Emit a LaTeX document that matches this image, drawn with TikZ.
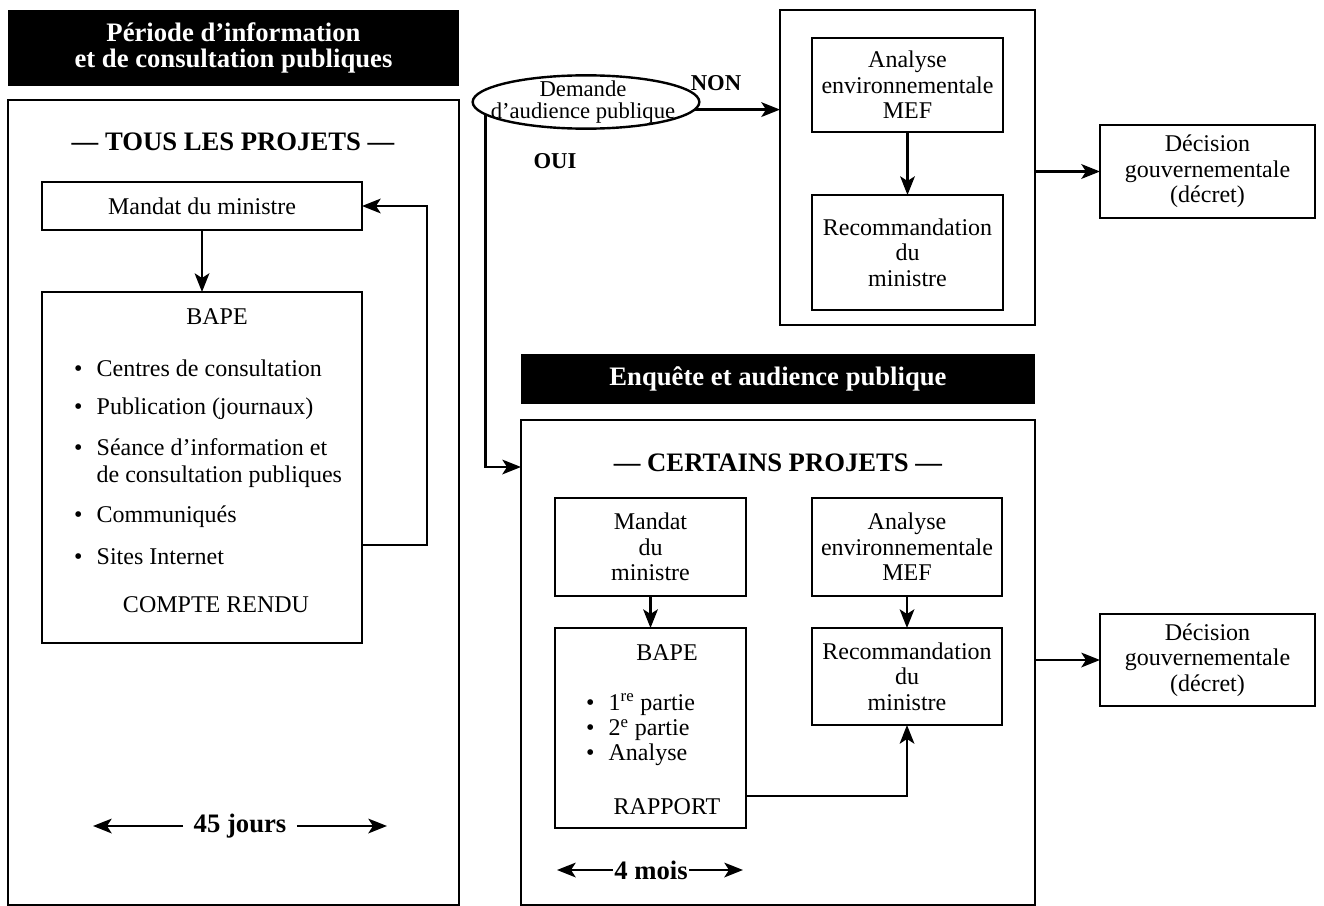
\documentclass[tikz,border=0pt]{standalone}
\usepackage{fontspec}
\setmainfont{Liberation Serif}
\usetikzlibrary{arrows.meta,shapes.geometric,fit}
\begin{document}
\begin{tikzpicture}[x=0.75pt,y=-0.75pt,
  every node/.style={inner sep=0pt, outer sep=0pt},
  frame/.style={draw, line width=1.8pt, inner sep=0pt},
  hdr/.style={fill=black, inner sep=0pt},
  hdrtxt/.style={text=white, align=center, font=\fontsize{20}{20}\selectfont\bfseries},
  lbl/.style={font=\fontsize{20}{20}\selectfont\bfseries},
  yesno/.style={font=\fontsize{17}{17}\selectfont\bfseries},
  txt/.style={font=\fontsize{18}{19}\selectfont, align=center},
  item/.style={font=\fontsize{18}{20}\selectfont, align=left, anchor=west},
  arr/.style={line width=1.8pt, -{Stealth[length=14pt,width=11pt,inset=3.5pt]}},
]
\useasboundingbox (0,0) rectangle (1324,906);

% ---------- left column ----------
\node[hdr, fit={(8,10)(459,86)}] (hL) {};
\node[hdrtxt] (hLt) at (hL.center) {Période d’information\\et de consultation publiques};
\node[frame, fit={(8,100)(459,905)}] (oL) {};
\node[lbl] (tous) at (233,142) {— TOUS LES PROJETS —};
\node[frame, fit={(42,182)(362,230)}] (mL) {};
\node[txt] (mLt) at (mL.center) {Mandat du ministre};
\node[frame, fit={(42,292)(362,643)}] (bL) {};
\node[txt] (bLt) at (217,317) {BAPE};
\node[item] (i1) at (74,368) {\makebox[17pt][l]{•}Centres de consultation};
\node[item] (i2) at (74,409) {\makebox[17pt][l]{•}Publication (journaux)};
\node[item] (i3) at (74,463) {\makebox[17pt][l]{•}Séance d’information et\\\hphantom{\makebox[17pt][l]{•}}de consultation publiques};
\node[item] (i4) at (74,517) {\makebox[17pt][l]{•}Communiqués};
\node[item] (i5) at (74,557) {\makebox[17pt][l]{•}Sites Internet};
\node[txt] (cr) at (216,605) {COMPTE RENDU};
\node[lbl] (j45) at (240,826) {45 jours};
\coordinate (j45l) at (93,826);
\coordinate (j45r) at (387,826);
\draw[arr] ([xshift=-8pt]j45.west) -- (j45l);
\draw[arr] ([xshift=8pt]j45.east) -- (j45r);

\draw[arr] (mL) -- (bL);
\coordinate (fbY) at (0,545);
\coordinate (fbX) at (427,0);
\draw[arr] (bL.east |- fbY) -| (fbX |- mL.east) -- (mL.east);

% ---------- upper middle ----------
\node[frame, ellipse, minimum width=170pt, minimum height=40pt] (dem) at (586,102) {};
\node[txt, font=\fontsize{17}{17}\selectfont] (demt) at (583,102) {Demande\\d’audience publique};
\node[yesno] (non) at (716,83) {NON};
\node[yesno] (oui) at (555,161) {OUI};

\node[frame, fit={(780,10)(1035,325)}] (oU) {};
\node[frame, fit={(812,38)(1003,132)}] (aU) {};
\node[txt] (aUt) at (aU.center) {Analyse\\environnementale\\MEF};
\node[frame, fit={(812,195)(1003,310)}] (rU) {};
\node[txt] (rUt) at (rU.center) {Recommandation\\du\\ministre};
\draw[arr] (aU) -- (rU);
\node[frame, fit={(1100,125)(1315,218)}] (dU) {};
\node[txt] (dUt) at (dU.center) {Décision\\gouvernementale\\(décret)};
\draw[arr] (oU.east |- dU.west) -- (dU.west);
\draw[arr] (dem.-4) -- (dem.-4 -| oU.west);

% ---------- lower middle ----------
\node[hdr, fit={(521,354)(1035,404)}] (hE) {};
\node[hdrtxt] (hEt) at (hE.center) {Enquête et audience publique};
\node[frame, fit={(521,420)(1035,905)}] (oE) {};
\node[lbl] (cert) at (778,463) {— CERTAINS PROJETS —};
\node[frame, fit={(555,498)(746,596)}] (mE) {};
\node[txt] (mEt) at (mE.center) {Mandat\\du\\ministre};
\node[frame, fit={(555,628)(746,828)}] (bE) {};
\node[txt] (bEt) at (667,653) {BAPE};
\node[item, font=\fontsize{18}{19}\selectfont] (bEi) at (586,730) {\makebox[17pt][l]{•}1\textsuperscript{re} partie\\\makebox[17pt][l]{•}2\textsuperscript{e} partie\\\makebox[17pt][l]{•}Analyse};
\node[txt] (rap) at (667,807) {RAPPORT};
\node[frame, fit={(812,498)(1002,596)}] (aE) {};
\node[txt] (aEt) at (aE.center) {Analyse\\environnementale\\MEF};
\node[frame, fit={(812,628)(1002,725)}] (rE) {};
\node[txt] (rEt) at (rE.center) {Recommandation\\du\\ministre};
\draw[arr] (mE) -- (bE);
\draw[arr] (aE) -- (rE);
\coordinate (rapY) at (0,796);
\draw[arr] (bE.east |- rapY) -| (rE.south);
\node[frame, fit={(1100,614)(1315,706)}] (dE) {};
\node[txt] (dEt) at (dE.center) {Décision\\gouvernementale\\(décret)};
\draw[arr] (oE.east |- dE.west) -- (dE.west);
\node[lbl] (m4) at (651,870) {4 mois};
\coordinate (m4l) at (557,870);
\coordinate (m4r) at (743,870);
\draw[arr] ([xshift=-1pt]m4.west) -- (m4l);
\draw[arr] ([xshift=1pt]m4.east) -- (m4r);

\coordinate (ouiY) at (0,467);
\draw[arr] (dem.187) |- (oE.west |- ouiY);
\end{tikzpicture}
\end{document}
